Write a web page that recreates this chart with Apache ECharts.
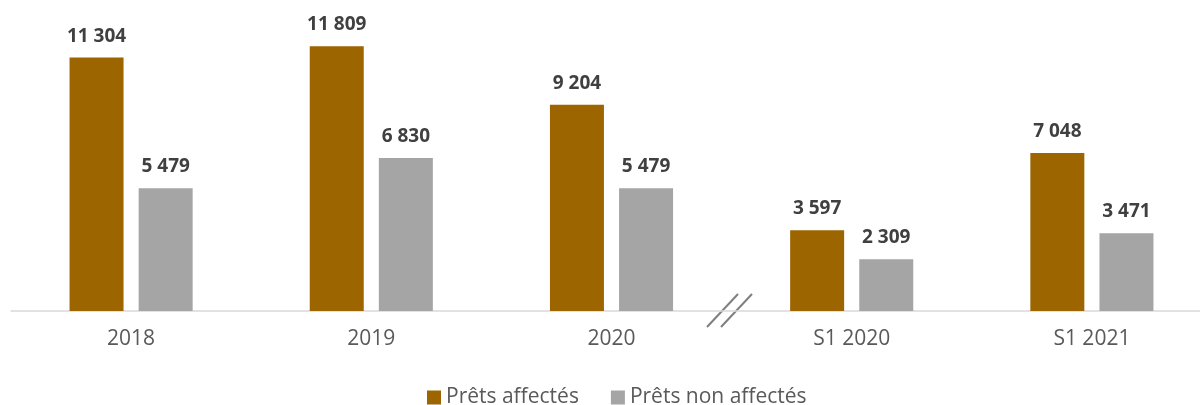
<!DOCTYPE html>
<html>
<head>
<meta charset="utf-8">
<script src="https://cdn.jsdelivr.net/npm/echarts@6/dist/echarts.min.js"></script>
<style>html,body{margin:0;padding:0;background:#fff}#c{width:1200px;height:405px}</style>
</head>
<body>
<div id="c"></div>
<script>
const categories = ['2018', '2019', '2020', 'S1 2020', 'S1 2021'];
const pretsAffectes = [11304, 11809, 9204, 3597, 7048];
const pretsNonAffectes = [5479, 6830, 5479, 2309, 3471];
const seriesNames = ['Prêts affectés', 'Prêts non affectés'];

const fmt = v => String(v).replace(/\B(?=(\d{3})+(?!\d))/g, ' ');
const font = '"Open Sans", "Noto Sans", sans-serif';
const chart = echarts.init(document.getElementById('c'));
const labelStyle = {
  show: true, position: 'top', distance: 12,
  fontFamily: font, fontWeight: 'bold', fontSize: 19, color: '#404040',
  formatter: p => fmt(p.value)
};
chart.setOption({
  animation: false,
  grid: { left: 11, width: 1201, top: 42, bottom: 94, outerBoundsMode: 'none', containLabel: false },
  legend: {
    top: 382, left: 422, itemWidth: 14, itemHeight: 14, itemGap: 32,
    icon: 'rect',
    textStyle: { fontFamily: font, fontSize: 21, color: '#595959' },
    data: seriesNames
  },
  xAxis: {
    type: 'category', data: categories,
    axisLine: { lineStyle: { color: '#D9D9D9', width: 1.5 } },
    axisTick: { show: false },
    axisLabel: { fontFamily: font, fontSize: 21, color: '#595959', margin: 18 }
  },
  yAxis: { type: 'value', min: 0, max: 12000, show: false, splitLine: { show: false } },
  series: [
    { name: seriesNames[0], type: 'bar', data: pretsAffectes, barWidth: 54, barGap: '28%',
      itemStyle: { color: '#9C6500' }, label: labelStyle },
    { name: seriesNames[1], type: 'bar', data: pretsNonAffectes, barWidth: 54,
      itemStyle: { color: '#A5A5A5' }, label: labelStyle }
  ],
  graphic: [
    { type: 'line', shape: { x1: 707, y1: 327, x2: 738, y2: 294 }, style: { stroke: '#7F7F7F', lineWidth: 2 } },
    { type: 'line', shape: { x1: 721, y1: 327, x2: 752, y2: 294 }, style: { stroke: '#7F7F7F', lineWidth: 2 } }
  ]
});
</script>
</body>
</html>
